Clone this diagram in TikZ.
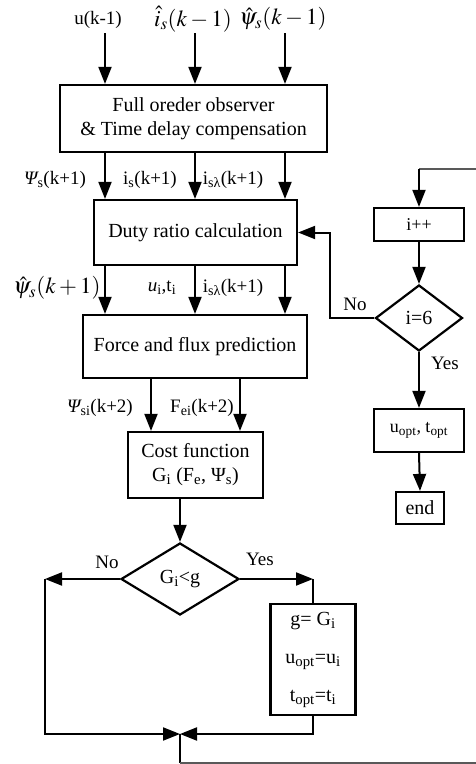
\documentclass[tikz,border=0pt]{standalone}
\usepackage{mathptmx}
\usepackage[no-math]{fontspec}
\setmainfont{Liberation Serif}
\usetikzlibrary{arrows.meta,shapes.geometric}
\newcommand{\lo}[1]{\textsubscript{#1}}
\begin{document}
\begin{tikzpicture}[x=1pt,y=-1pt,
  every node/.style={font=\fontsize{20}{24}\selectfont},
  box/.style={draw,line width=2.2pt,inner sep=0pt,align=center},
  dia/.style={draw,diamond,line width=2.2pt,inner sep=0pt},
  arr/.style={line width=2pt,-{Triangle[length=17pt,width=13pt]}},
  ln/.style={line width=2pt},
  lbl/.style={font=\fontsize{19}{22}\selectfont,inner sep=0pt},
  mlbl/.style={font=\fontsize{23}{26}\selectfont,inner sep=0pt},
  ret/.style={line width=1.3pt,draw=black!65}]
\useasboundingbox (0,0) rectangle (475,764);

% main column boxes
\node[box,minimum width=267pt,minimum height=67pt] (b1) at (193.5,118.5) {Full oreder observer\\\& Time delay compensation};
\node[box,minimum width=203pt,minimum height=65pt] (b2) at (195.5,232.5) {Duty ratio calculation};
\node[box,minimum width=224pt,minimum height=63pt] (b3) at (195,346.5) {Force and flux prediction};
\node[box,minimum width=135pt,minimum height=66pt] (b4) at (195.5,465) {Cost function\\G\lo{i} (F\lo{e}, Ψ\lo{s})};
\node[dia,minimum width=118pt,minimum height=72pt] (d1) at (180,579) {G\lo{i}<g};
\node[box,minimum width=85pt,minimum height=111pt,font=\fontsize{20}{38}\selectfont] (b5) at (313,659.5) {g= G\lo{i}\\u\lo{opt}=u\lo{i}\\t\lo{opt}=t\lo{i}};

% right column
\node[box,minimum width=90pt,minimum height=33pt,font=\fontsize{18}{20}\selectfont] (ipp) at (419,224.5) {i++};
\node[dia,minimum width=87pt,minimum height=66pt] (d2) at (419,318) {i=6};
\node[box,minimum width=90pt,minimum height=43pt,font=\fontsize{18}{20}\selectfont] (opt) at (419,430.5) {u\lo{opt}, t\lo{opt}};
\node[box,minimum width=48pt,minimum height=32pt] (end) at (420,508) {end};

% input labels
\node[lbl] (l1) at (98,20) {u(k-1)};
\node[mlbl] (l2) at (193,19) {$\hat{i}_s(k-1)$};
\node[mlbl] (l3) at (283,19) {$\hat{\psi}_s(k-1)$};
\coordinate (in1) at (105,33);
\coordinate (in2) at (195,33);
\coordinate (in3) at (285,33);
\draw[arr] (in1) -- (in1 |- b1.north);
\draw[arr] (in2) -- (in2 |- b1.north);
\draw[arr] (in3) -- (in3 |- b1.north);

% b1 -> b2
\draw[arr] (b1.south -| in1) -- (b2.north -| in1);
\draw[arr] (b1.south -| in2) -- (b2.north -| in2);
\draw[arr] (b1.south -| in3) -- (b2.north -| in3);
\node[lbl] (l4) at (55,180) {{\itshape Ψ}\lo{s}(k+1)};
\node[lbl] (l5) at (150,180) {i\lo{s}(k+1)};
\node[lbl] (l6) at (233,180) {i\lo{sλ}(k+1)};

% b2 -> b3
\draw[arr] (b2.south -| in1) -- (b3.north -| in1);
\draw[arr] (b2.south -| in2) -- (b3.north -| in2);
\draw[arr] (b2.south -| in3) -- (b3.north -| in3);
\node[mlbl] (l7) at (57,288) {$\hat{\psi}_s(k+1)$};
\node[lbl] (l8) at (162,288) {{\itshape u}\lo{i},t\lo{i}};
\node[lbl] (l9) at (233,288) {i\lo{sλ}(k+1)};

% b3 -> b4
\coordinate (c4) at (151,400);
\coordinate (c5) at (240,400);
\draw[arr] (b3.south -| c4) -- (b4.north -| c4);
\draw[arr] (b3.south -| c5) -- (b4.north -| c5);
\node[lbl] (l10) at (100,408) {{\itshape Ψ}\lo{si}(k+2)};
\node[lbl] (l11) at (202,408) {F\lo{ei}(k+2)};

% b4 -> d1
\draw[arr] (b4.south -| d1) -- (d1.north);

% decision branches
\coordinate (nl) at (45,579);
\coordinate (yr) at (313,579);
\coordinate (jn) at (180,734);
\node[lbl] (lno1) at (107,562) {No};
\node[lbl] (lyes1) at (260,559) {Yes};
\draw[arr] (d1.west) -- (nl);
\draw[arr] (nl) |- (jn);
\draw[arr] (d1.east) -- (yr);
\draw[ln] (yr) -- (b5.north);
\draw[arr] (b5.south) |- (jn);

% return path
\coordinate (bl) at (180,763);
\coordinate (br) at (480,763);
\coordinate (tr) at (480,169);
\coordinate (tk) at (419,169);
\draw[ln] (jn) -- (bl);
\draw[ret] (bl) -- (br) -- (tr) -- (tk);
\draw[arr] (tk) -- (ipp.north);

% right column connectors
\draw[arr] (ipp.south) -- (d2.north);
\coordinate (nd2) at (330,318);
\node[lbl] (lno2) at (355,304) {No};
\draw[arr] (d2.west) -- (nd2) |- (b2.east);
\node[lbl] (lyes2) at (445,363) {Yes};
\draw[arr] (d2.south) -- (opt.north);
\draw[arr] (opt.south) -- (end.north);
\end{tikzpicture}
\end{document}
